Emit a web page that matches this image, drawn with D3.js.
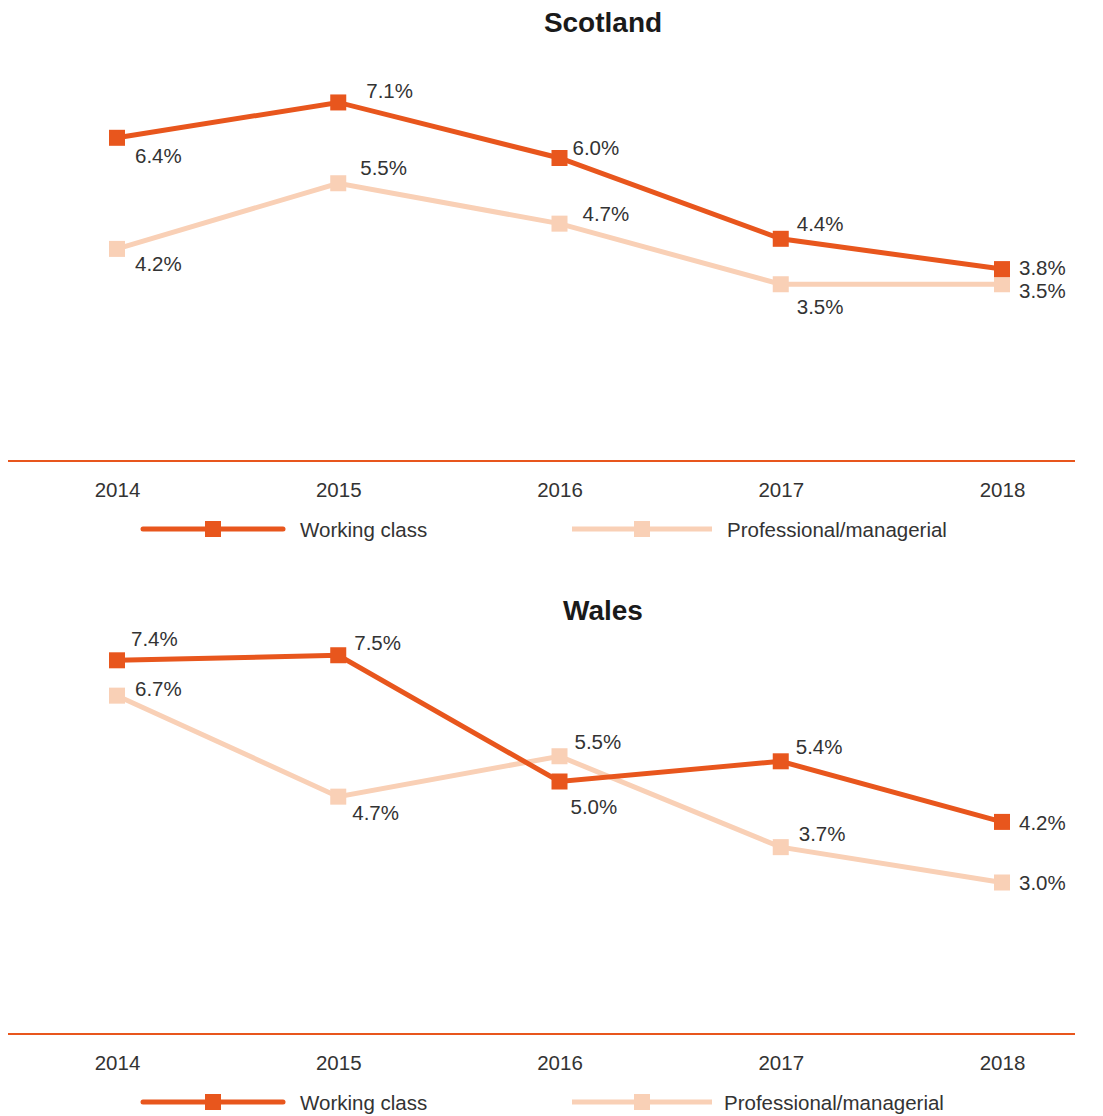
<!DOCTYPE html>
<html>
<head>
<meta charset="utf-8">
<script src="https://cdn.jsdelivr.net/npm/d3@7"></script>
<style>
  body { margin: 0; background: #fff; }
  text { font-family: "Liberation Sans", Arial, sans-serif; fill: #333; }
</style>
</head>
<body>
<div id="chart"></div>
<script>
// data
var years = [2014, 2015, 2016, 2017, 2018];
var seriesNames = ["Working class", "Professional/managerial"];
var scotlandWorking = [6.4, 7.1, 6.0, 4.4, 3.8];
var scotlandProf = [4.2, 5.5, 4.7, 3.5, 3.5];
var walesWorking = [7.4, 7.5, 5.0, 5.4, 4.2];
var walesProf = [6.7, 4.7, 5.5, 3.7, 3.0];

// label nudges [dx, dy] for each point (placement only)
var nudgeScotWorking = [[18, 18], [28, -12], [13, -11], [16, -15], [17, -2]];
var nudgeScotProf = [[18, 15], [22, -16], [23, -10], [16, 22], [17, 6]];
var nudgeWalesWorking = [[14, -22], [16, -13], [11, 25], [15, -15], [17, 1]];
var nudgeWalesProf = [[18, -7], [14, 16], [15, -15], [18, -14], [17, 0]];

var colors = ["#e8561d", "#f9d0b6"];

var width = 1103, height = 1116;
var svg = d3.select("#chart").append("svg")
    .attr("width", width)
    .attr("height", height);

var x = d3.scaleLinear().domain([2014, 2018]).range([117, 1002]);
var y = d3.scaleLinear().domain([0, 8]).range([461, 57]);

var panels = [
    { title: "Scotland", titleY: 22, offset: 0, values: [scotlandWorking, scotlandProf], nudges: [nudgeScotWorking, nudgeScotProf], legendX: [143, 572], legendText: [300, 727] },
    { title: "Wales", titleY: 37, offset: 573, values: [walesWorking, walesProf], nudges: [nudgeWalesWorking, nudgeWalesProf], legendX: [143, 572], legendText: [300, 724] }
];

function drawPanel(p) {
    var g = svg.append("g").attr("transform", "translate(0," + p.offset + ")");

    // title
    g.append("text")
        .attr("x", 603)
        .attr("y", p.titleY)
        .attr("text-anchor", "middle")
        .attr("dominant-baseline", "central")
        .style("font-size", "28px")
        .style("font-weight", "bold")
        .style("fill", "#1a1a1a")
        .text(p.title);

    // baseline
    g.append("line")
        .attr("x1", 8).attr("x2", 1075)
        .attr("y1", y(0)).attr("y2", y(0))
        .attr("stroke", colors[0])
        .attr("stroke-width", 2);

    // x axis labels
    var axis = g.append("g")
        .attr("transform", "translate(0," + (y(0) + 28) + ")")
        .call(d3.axisBottom(x).tickValues(years).tickFormat(d3.format("d")).tickSize(0).tickPadding(0));
    axis.select(".domain").remove();
    axis.selectAll("text")
        .attr("dy", null)
        .attr("dominant-baseline", "central")
        .style("font-size", "20.5px")
        .style("font-family", "Liberation Sans, Arial, sans-serif")
        .attr("fill", "#333");

    // lines, draw professional first so working class sits on top
    var line = d3.line()
        .x(function (d, i) { return x(years[i]); })
        .y(function (d) { return y(d); });

    [1, 0].forEach(function (s) {
        g.append("path")
            .datum(p.values[s])
            .attr("fill", "none")
            .attr("stroke", colors[s])
            .attr("stroke-width", 5)
            .attr("d", line);

        g.selectAll(".pt" + s)
            .data(p.values[s])
            .enter()
            .append("rect")
            .attr("x", function (d, i) { return x(years[i]) - 8; })
            .attr("y", function (d) { return y(d) - 8; })
            .attr("width", 16)
            .attr("height", 16)
            .attr("fill", colors[s]);
    });

    // value labels
    [0, 1].forEach(function (s) {
        g.selectAll(".lbl" + s)
            .data(p.values[s])
            .enter()
            .append("text")
            .attr("x", function (d, i) { return x(years[i]) + p.nudges[s][i][0]; })
            .attr("y", function (d, i) { return y(d) + p.nudges[s][i][1]; })
            .attr("dominant-baseline", "central")
            .style("font-size", "20.5px")
            .text(function (d) { return d.toFixed(1) + "%"; });
    });

    // legend
    var ly = y(0) + 68;
    seriesNames.forEach(function (name, s) {
        var lx = p.legendX[s];
        g.append("line")
            .attr("x1", lx).attr("x2", lx + 140)
            .attr("y1", ly).attr("y2", ly)
            .attr("stroke", colors[s])
            .attr("stroke-width", 5)
            .attr("stroke-linecap", s === 0 ? "round" : "butt");
        g.append("rect")
            .attr("x", lx + 70 - 8).attr("y", ly - 8)
            .attr("width", 16).attr("height", 16)
            .attr("fill", colors[s]);
        g.append("text")
            .attr("x", p.legendText[s])
            .attr("y", ly)
            .attr("dominant-baseline", "central")
            .style("font-size", "20.5px")
            .text(name);
    });
}

panels.forEach(drawPanel);
</script>
</body>
</html>
